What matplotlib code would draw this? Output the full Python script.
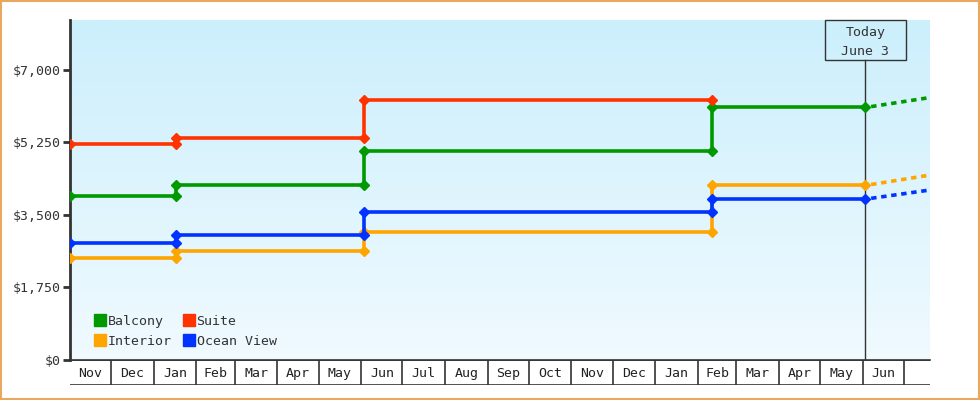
import matplotlib
matplotlib.use('Agg')
import matplotlib.pyplot as plt
import matplotlib.dates as mdates
import matplotlib.transforms as mtransforms
from matplotlib.patches import Rectangle
from matplotlib.colors import LinearSegmentedColormap
import numpy as np
import pandas as pd

plt.rcParams['font.family'] = 'DejaVu Sans Mono'

# price change dates (first one is the start of the chart)
change_dates = pd.to_datetime(['2017-11-01', '2018-01-17', '2018-06-03', '2019-02-11'])
today = pd.Timestamp('2019-06-03')
x_end = pd.Timestamp('2019-07-20')

series_names = ['Balcony', 'Suite', 'Interior', 'Ocean View']
series_colors = ['#009900', '#ff3300', '#ffa500', '#0033ff']

balcony = [3960, 4210, 5040, 6090]
suite = [5200, 5360, 6260]
interior = [2450, 2630, 3080, 4210]
ocean_view = [2830, 3010, 3570, 3880]
levels = [balcony, suite, interior, ocean_view]

# last known date of each series and projected price at the right edge
last_dates = [today, change_dates[3], today, today]
projected = [6330, None, 4460, 4100]

y_ticks = [0, 1750, 3500, 5250, 7000]
month_starts = pd.date_range('2017-11-01', '2019-07-01', freq='MS')
month_labels = ['Nov', 'Dec', 'Jan', 'Feb', 'Mar', 'Apr', 'May', 'Jun', 'Jul', 'Aug',
                'Sep', 'Oct', 'Nov', 'Dec', 'Jan', 'Feb', 'Mar', 'Apr', 'May', 'Jun']

fig = plt.figure(figsize=(9.8, 4), dpi=100)
fig.patch.set_facecolor('white')
fig.patches.append(Rectangle((0.001, 0.002), 0.998, 0.996, transform=fig.transFigure,
                             fill=False, edgecolor='#e8a860', lw=1.5))

ax = fig.add_axes([70 / 980, 40 / 400, 860 / 980, 340 / 400])
x0, x1 = mdates.date2num(change_dates[0]), mdates.date2num(x_end)
ax.set_xlim(x0, x1)
ax.set_ylim(0, 8200)

# gradient background
grad = np.linspace(0, 1, 256).reshape(-1, 1)
cmap = LinearSegmentedColormap.from_list('bg', ['#f0faff', '#cceffc'])
ax.imshow(grad, extent=[x0, x1, 0, 8200], origin='lower', aspect='auto', cmap=cmap, zorder=0)

handles = {}
for name, color, lv, last, proj in zip(series_names, series_colors, levels, last_dates, projected):
    xs, ys = [], []
    for i, v in enumerate(lv):
        start = change_dates[i]
        end = change_dates[i + 1] if i + 1 < len(lv) else last
        xs += [start, end]
        ys += [v, v]
    ax.plot(xs, ys, color=color, lw=2.6, marker='D', ms=5.5, zorder=3)
    if proj is not None:
        ax.plot([last, x_end], [lv[-1], proj], color=color, lw=2.6,
                linestyle=(1.2, (1.5, 1.3)), zorder=3, clip_on=False)
    handles[name], = ax.plot([], [], color=color, marker='s', ls='none', ms=8, label=name)

# today marker
ax.plot([today, today], [0, 8200 * (1 - 40 / 340)], color='#333333', lw=1, zorder=2)
bt = mtransforms.blended_transform_factory(ax.transData, ax.transAxes)
tnum = mdates.date2num(today)
ax.add_patch(Rectangle((tnum - 29.5, 1 - 40 / 340), 59, 40 / 340, transform=bt,
                       fill=False, edgecolor='#333333', lw=1, zorder=4, clip_on=False))
ax.text(tnum, 1 - 22 / 340, 'Today\nJune 3', transform=bt, ha='center', va='center',
        fontsize=9.5, color='#333333', linespacing=1.55, zorder=5)

ax.set_yticks(y_ticks)
ax.set_yticklabels(['${:,}'.format(v) for v in y_ticks], fontsize=9.5, color='#333333')
ax.tick_params(axis='y', length=5, width=2, color='#333333', pad=2)
ax.set_xticks([])
for s in ['top', 'right']:
    ax.spines[s].set_visible(False)
ax.spines['left'].set_linewidth(2)
ax.spines['left'].set_color('#333333')
ax.spines['bottom'].set_linewidth(1.2)
ax.spines['bottom'].set_color('#333333')

order = ['Balcony', 'Interior', 'Suite', 'Ocean View']
leg = ax.legend([handles[n] for n in order], order, ncol=2, loc='lower left',
                bbox_to_anchor=(0.016, 0.004), frameon=False,
                fontsize=9.5, handlelength=0.8, handletextpad=0.2, columnspacing=0.9,
                labelspacing=0.55, borderpad=0.3)
for t in leg.get_texts():
    t.set_color('#333333')

# month row below the plot
axm = fig.add_axes([70 / 980, 15 / 400, 860 / 980, 25 / 400])
axm.set_xlim(x0, x1)
axm.set_ylim(0, 1)
axm.axis('off')
axm.axhline(0, color='#333333', lw=1.2)
axm.axhline(1, color='#333333', lw=1.2)
ms = list(month_starts)
for i, m in enumerate(ms):
    if i > 0:
        axm.axvline(m, color='#333333', lw=1.2)
for i, lab in enumerate(month_labels):
    mid = ms[i] + (ms[i + 1] - ms[i]) / 2
    axm.text(mid, 0.45, lab, ha='center', va='center', fontsize=9.5, color='#222222')

fig.savefig('out.png', dpi=100)
